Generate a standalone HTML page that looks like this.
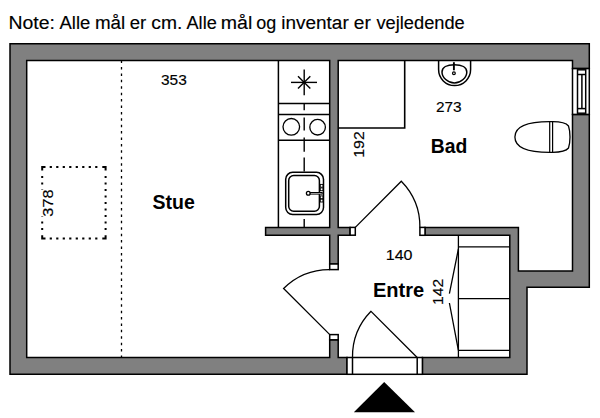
<!DOCTYPE html>
<html><head><meta charset="utf-8"><style>
html,body{margin:0;padding:0;background:#fff;width:600px;height:418px;overflow:hidden}
svg{display:block}
text{font-family:"Liberation Sans", sans-serif}
</style></head><body>
<svg width="600" height="418" viewBox="0 0 600 418">
<path d="M572.50 43.70 L26.70 43.70 L10.00 43.70 L10.00 60.60 L10.00 357.50 L10.00 374.30 L26.70 374.30 L347.00 374.30 L347.00 357.50 L338.20 357.50 L338.20 339.80 L329.70 339.80 L329.70 357.50 L26.70 357.50 L26.70 60.60 L329.70 60.60 L329.70 227.40 L265.60 227.40 L265.60 235.20 L329.70 235.20 L329.70 264.00 L338.20 264.00 L338.20 235.20 L350.10 235.20 L350.10 227.40 L338.20 227.40 L338.20 60.60 L572.50 60.60 L572.50 68.60 L589.30 68.60 L589.30 60.60 L589.30 43.70 Z M518.40 227.40 L509.80 227.40 L425.00 227.40 L425.00 235.30 L509.80 235.30 L509.80 271.00 L509.80 287.30 L509.80 357.50 L422.40 357.50 L422.40 374.30 L509.80 374.30 L527.00 374.30 L527.00 357.50 L527.00 287.30 L572.50 287.30 L589.30 287.30 L589.30 271.00 L589.30 114.40 L572.50 114.40 L572.50 271.00 L527.00 271.00 L518.40 271.00 L518.40 235.30 Z " fill="#808080" stroke="#000" stroke-width="1.5" fill-rule="evenodd" stroke-linejoin="miter"/>
<rect x="347.00" y="357.50" width="75.40" height="16.80" fill="#fff" stroke="#000" stroke-width="1.5" />
<line x1="352.5" y1="357.5" x2="352.5" y2="374.3" stroke="#000" stroke-width="1.5"/>
<line x1="417.2" y1="357.5" x2="417.2" y2="374.3" stroke="#000" stroke-width="1.5"/>
<rect x="350.10" y="227.40" width="5.20" height="7.80" fill="#fff" stroke="#000" stroke-width="1.5" />
<rect x="419.90" y="227.40" width="5.10" height="7.90" fill="#fff" stroke="#000" stroke-width="1.5" />
<rect x="329.70" y="264.00" width="8.50" height="5.60" fill="#fff" stroke="#000" stroke-width="1.5" />
<rect x="329.70" y="334.60" width="8.50" height="5.20" fill="#fff" stroke="#000" stroke-width="1.5" />
<rect x="572.50" y="68.60" width="16.80" height="45.80" fill="#fff" stroke="#000" stroke-width="1.5" />
<rect x="577.50" y="69.80" width="8.20" height="43.40" fill="#fff" stroke="#000" stroke-width="1.5" />
<line x1="577.5" y1="74.5" x2="585.7" y2="74.5" stroke="#000" stroke-width="1.5"/>
<line x1="577.5" y1="108.6" x2="585.7" y2="108.6" stroke="#000" stroke-width="1.5"/>
<line x1="581.9" y1="74.5" x2="581.9" y2="108.6" stroke="#000" stroke-width="1.5"/>
<path d="M355.3 227.4 L401.3 181.2 A65 65 0 0 1 419.9 227.4" stroke="#000" stroke-width="1.3" fill="none"/>
<path d="M329.8 334.6 L283.6 288.5 A65 65 0 0 1 329.8 269.6" stroke="#000" stroke-width="1.3" fill="none"/>
<path d="M417.2 357.5 L371.0 311.3 A65 65 0 0 0 352.5 357.5" stroke="#000" stroke-width="1.3" fill="none"/>
<path d="M338.2 128.0 L404.7 128.0 L404.7 60.6" stroke="#000" stroke-width="1.6" fill="none"/>
<path d="M438.6 60.6 L438.6 69.6 A16 16 0 0 0 470.6 69.6 L470.6 60.6" stroke="#000" stroke-width="1.5" fill="none"/>
<path d="M454.4 64.8 C462 64.8 466.8 67.5 466.8 72 C466.8 77.5 461 83 454.4 83 C447.8 83 442 77.5 442 72 C442 67.5 446.8 64.8 454.4 64.8 Z" stroke="#000" stroke-width="1.5" fill="none"/>
<line x1="453.9" y1="62.2" x2="453.9" y2="70.3" stroke="#000" stroke-width="1.9"/>
<circle cx="453.9" cy="73.3" r="1.4" stroke="#000" stroke-width="1.2" fill="none"/>
<path d="M549.7 121.7 C526.5 121.7 514.9 126.6 514.9 137 C514.9 147.4 526.5 152.4 549.7 152.4 L552.6 152.4 C560 152.2 566.5 150.5 568.5 148 C570.5 142 570.5 132 568.5 126 C566.5 123.5 560 121.8 552.6 121.7 Z" stroke="#000" stroke-width="1.3" fill="none"/>
<line x1="549.7" y1="121.7" x2="549.7" y2="152.4" stroke="#000" stroke-width="1.2"/>
<line x1="552.6" y1="121.7" x2="552.6" y2="152.4" stroke="#000" stroke-width="1.2"/>
<line x1="278.4" y1="60.6" x2="278.4" y2="227.4" stroke="#000" stroke-width="1.5"/>
<line x1="278.4" y1="103.5" x2="329.7" y2="103.5" stroke="#000" stroke-width="1.5"/>
<line x1="278.4" y1="114.5" x2="329.7" y2="114.5" stroke="#000" stroke-width="1.5"/>
<line x1="278.4" y1="140.3" x2="329.7" y2="140.3" stroke="#000" stroke-width="1.5"/>
<g stroke="#000" stroke-width="1.4"><line x1="304.2" y1="69.4" x2="304.2" y2="95.2"/><line x1="291" y1="82.4" x2="317" y2="82.4"/><line x1="298" y1="76.2" x2="310.3" y2="88.5"/><line x1="298" y1="88.5" x2="310.3" y2="76.2"/></g>
<circle cx="291.3" cy="126.8" r="8.3" stroke="#000" stroke-width="1.3" fill="none"/>
<circle cx="317.6" cy="127.2" r="7.8" stroke="#000" stroke-width="1.3" fill="none"/>
<line x1="304.2" y1="103.5" x2="304.2" y2="110.2" stroke="#000" stroke-width="1.4"/>
<line x1="304.2" y1="117.4" x2="304.2" y2="130.5" stroke="#000" stroke-width="1.4"/>
<line x1="304.2" y1="137.5" x2="304.2" y2="151.8" stroke="#000" stroke-width="1.4"/>
<line x1="304.2" y1="157.6" x2="304.2" y2="171.6" stroke="#000" stroke-width="1.4"/>
<line x1="304.2" y1="218.9" x2="304.2" y2="227.4" stroke="#000" stroke-width="1.4"/>
<rect x="285.7" y="172.3" width="37.8" height="42.3" rx="7" stroke="#000" stroke-width="1.5" fill="none"/>
<rect x="288.7" y="175.6" width="30.7" height="35.7" rx="5" stroke="#000" stroke-width="1.5" fill="none"/>
<circle cx="308.3" cy="193.3" r="1.9" stroke="#000" stroke-width="1.3" fill="none"/>
<rect x="310.2" y="192.5" width="12" height="1.6" fill="#fff" stroke="#000" stroke-width="1"/>
<rect x="320.3" y="184.4" width="2.6" height="2.8" fill="#fff" stroke="#000" stroke-width="0.9"/>
<rect x="320.3" y="187.9" width="2.6" height="2.8" fill="#fff" stroke="#000" stroke-width="0.9"/>
<rect x="320.3" y="195.9" width="2.6" height="2.8" fill="#fff" stroke="#000" stroke-width="0.9"/>
<rect x="320.3" y="199.2" width="2.6" height="2.8" fill="#fff" stroke="#000" stroke-width="0.9"/>
<line x1="121.5" y1="60.6" x2="121.5" y2="357.5" stroke="#000" stroke-width="1.3" stroke-dasharray="2.5 3.911"/>
<path d="M42.2 170.5 L42.2 167 L45.5 167 M102.3 167 L105.6 167 L105.6 170.5 M105.6 235.2 L105.6 238.5 L102.3 238.5 M45.5 238.5 L42.2 238.5 L42.2 235.2" stroke="#000" stroke-width="2" fill="none" stroke-linejoin="miter"/>
<path d="M49.7 167 L99 167 M49.7 238.5 L99 238.5" stroke="#000" stroke-width="2" fill="none" stroke-dasharray="2.2 4.3"/>
<path d="M42.2 175.9 L42.2 231 M105.6 175.9 L105.6 231" stroke="#000" stroke-width="2" fill="none" stroke-dasharray="2.2 4.3"/>
<line x1="458.4" y1="235.3" x2="458.4" y2="357.5" stroke="#000" stroke-width="1.3"/>
<line x1="458.4" y1="246.9" x2="509.8" y2="246.9" stroke="#000" stroke-width="1.3"/>
<line x1="458.4" y1="298.7" x2="509.8" y2="298.7" stroke="#000" stroke-width="1.3"/>
<line x1="458.4" y1="350.4" x2="509.8" y2="350.4" stroke="#000" stroke-width="1.3"/>
<path d="M458.4 249 L449.4 293.7 M449.4 303 L458.4 350.4" stroke="#000" stroke-width="1.3" fill="none"/>
<g font-family="Liberation Sans, sans-serif" fill="#000">
<rect x="41" y="189.5" width="13" height="27" fill="#fff"/>
<text x="8.50" y="28.75" font-size="18.0" font-weight="normal" textLength="46.5" lengthAdjust="spacingAndGlyphs" stroke="#000" stroke-width="0.15">Note:</text>
<text x="59.50" y="28.75" font-size="18.0" font-weight="normal" textLength="30.75" lengthAdjust="spacingAndGlyphs" stroke="#000" stroke-width="0.15">Alle</text>
<text x="94.95" y="28.75" font-size="18.0" font-weight="normal" textLength="30.25" lengthAdjust="spacingAndGlyphs" stroke="#000" stroke-width="0.15">mål</text>
<text x="129.75" y="28.75" font-size="18.0" font-weight="normal" textLength="16.5" lengthAdjust="spacingAndGlyphs" stroke="#000" stroke-width="0.15">er</text>
<text x="151.35" y="28.75" font-size="18.0" font-weight="normal" textLength="31.0" lengthAdjust="spacingAndGlyphs" stroke="#000" stroke-width="0.15">cm.</text>
<text x="186.50" y="28.75" font-size="18.0" font-weight="normal" textLength="30.25" lengthAdjust="spacingAndGlyphs" stroke="#000" stroke-width="0.15">Alle</text>
<text x="220.75" y="28.75" font-size="18.0" font-weight="normal" textLength="31.5" lengthAdjust="spacingAndGlyphs" stroke="#000" stroke-width="0.15">mål</text>
<text x="256.25" y="28.75" font-size="18.0" font-weight="normal" textLength="20.0" lengthAdjust="spacingAndGlyphs" stroke="#000" stroke-width="0.15">og</text>
<text x="281.25" y="28.75" font-size="18.0" font-weight="normal" textLength="67.5" lengthAdjust="spacingAndGlyphs" stroke="#000" stroke-width="0.15">inventar</text>
<text x="353.75" y="28.75" font-size="18.0" font-weight="normal" textLength="17.0" lengthAdjust="spacingAndGlyphs" stroke="#000" stroke-width="0.15">er</text>
<text x="376.50" y="28.75" font-size="18.0" font-weight="normal" textLength="88.25" lengthAdjust="spacingAndGlyphs" stroke="#000" stroke-width="0.15">vejledende</text>
<text x="161.00" y="84.75" font-size="14.93" font-weight="normal" textLength="25.75" lengthAdjust="spacingAndGlyphs" stroke="#000" stroke-width="0.15">353</text>
<text x="152.50" y="209.25" font-size="20.35" font-weight="bold" textLength="42.25" lengthAdjust="spacingAndGlyphs">Stue</text>
<text x="435.95" y="111.55" font-size="14.44" font-weight="normal" textLength="25.75" lengthAdjust="spacingAndGlyphs" stroke="#000" stroke-width="0.15">273</text>
<text x="430.75" y="153.05" font-size="20.07" font-weight="bold" textLength="36.5" lengthAdjust="spacingAndGlyphs">Bad</text>
<text x="385.75" y="259.65" font-size="15.14" font-weight="normal" textLength="26.75" lengthAdjust="spacingAndGlyphs" stroke="#000" stroke-width="0.15">140</text>
<text x="372.95" y="296.75" font-size="20.29" font-weight="bold" textLength="51.25" lengthAdjust="spacingAndGlyphs">Entre</text>
<text x="0" y="0" font-size="15.35" font-weight="normal" textLength="27.25" lengthAdjust="spacingAndGlyphs" stroke="#000" stroke-width="0.15" transform="translate(52.95 216.65) rotate(-90)">378</text>
<text x="0" y="0" font-size="14.65" font-weight="normal" textLength="26.5" lengthAdjust="spacingAndGlyphs" stroke="#000" stroke-width="0.15" transform="translate(363.65 157.75) rotate(-90)">192</text>
<text x="0" y="0" font-size="15.0" font-weight="normal" textLength="26.0" lengthAdjust="spacingAndGlyphs" stroke="#000" stroke-width="0.15" transform="translate(443.40 304.95) rotate(-90)">142</text>
</g>
<path d="M384.2 382 L415 412.3 L353.8 412.3 Z" fill="#000"/>
</svg>
</body></html>
